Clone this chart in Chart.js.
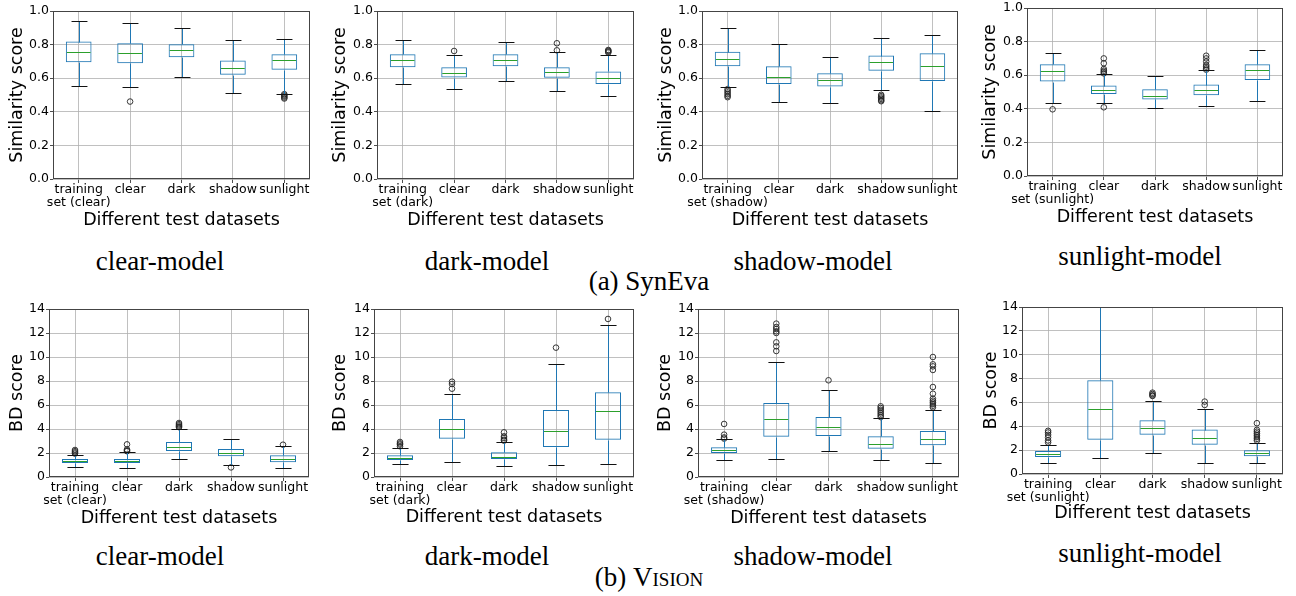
<!DOCTYPE html>
<html lang="en">
<head>
<meta charset="UTF-8">
<title>SynEva / Vision box plots</title>
<script src="https://cdn.jsdelivr.net/npm/chart.js@4"></script>
<style>
  body { margin: 0; background: #fff; }
  #page { position: relative; width: 1296px; height: 596px; overflow: hidden; background: #fff; }
  #page canvas { position: absolute; }
  .cap { position: absolute; font-family: 'Liberation Serif', 'Times New Roman', serif; font-size: 27px;
         line-height: 1; white-space: nowrap; transform: translateX(-50%); color: #000; }
  .sc { font-variant: small-caps; }
</style>
</head>
<body>
<div id="page"></div>
<script>
// test datasets on the x axis (first one is the model's own training set)
const testSets = ['clear', 'dark', 'shadow', 'sunlight'];
const models = ['clear', 'dark', 'shadow', 'sunlight'];

// each row: [lower whisker, q1, median, q3, upper whisker]
// (a) SynEva - similarity score
const synevaClear = [
  [0.552, 0.695, 0.754, 0.818, 0.941],
  [0.547, 0.689, 0.749, 0.808, 0.929],
  [0.606, 0.725, 0.766, 0.802, 0.901],
  [0.511, 0.620, 0.661, 0.705, 0.830],
  [0.507, 0.650, 0.707, 0.743, 0.836]
];
const synevaClearOut = [[], [0.461], [], [], [0.505, 0.498, 0.492, 0.485, 0.479]];

const synevaDark = [
  [0.566, 0.665, 0.707, 0.743, 0.826],
  [0.537, 0.604, 0.632, 0.665, 0.737],
  [0.584, 0.671, 0.707, 0.743, 0.818],
  [0.523, 0.602, 0.638, 0.665, 0.754],
  [0.493, 0.566, 0.602, 0.640, 0.737]
];
const synevaDarkOut = [[], [0.762], [], [0.766, 0.808], [0.753, 0.758, 0.763, 0.768]];

const synevaShadow = [
  [0.549, 0.671, 0.713, 0.758, 0.897],
  [0.457, 0.566, 0.610, 0.671, 0.802],
  [0.450, 0.550, 0.590, 0.630, 0.725],
  [0.529, 0.644, 0.695, 0.735, 0.838],
  [0.404, 0.584, 0.671, 0.749, 0.855]
];
const synevaShadowOut = [[0.535, 0.525, 0.515, 0.505, 0.495, 0.487], [], [],
  [0.501, 0.493, 0.485, 0.477, 0.469, 0.463], []];

const synevaSunlight = [
  [0.437, 0.562, 0.625, 0.665, 0.730],
  [0.433, 0.488, 0.512, 0.538, 0.607],
  [0.407, 0.456, 0.478, 0.516, 0.593],
  [0.415, 0.480, 0.510, 0.544, 0.631],
  [0.446, 0.571, 0.631, 0.665, 0.748]
];
const synevaSunlightOut = [[0.397], [0.409, 0.611, 0.619, 0.627, 0.637, 0.671, 0.700], [],
  [0.633, 0.641, 0.651, 0.661, 0.681, 0.700, 0.716], []];

// (b) Vision - BD score
const visionClear = [
  [0.83, 1.17, 1.33, 1.50, 1.81],
  [0.75, 1.17, 1.36, 1.50, 2.06],
  [1.53, 2.17, 2.47, 2.92, 4.00],
  [1.03, 1.72, 2.00, 2.33, 3.19],
  [0.78, 1.22, 1.50, 1.81, 2.56]
];
const visionClearOut = [[1.95, 2.05, 2.15, 2.25], [2.15, 2.2, 2.3, 2.72], [4.15, 4.2, 4.3, 4.4, 4.5], [0.8], [2.69]];

const visionDark = [
  [1.06, 1.42, 1.58, 1.81, 2.42],
  [1.22, 3.19, 4.00, 4.83, 6.92],
  [0.89, 1.50, 1.67, 2.06, 2.92],
  [1.00, 2.50, 3.86, 5.58, 9.42],
  [1.08, 3.11, 5.50, 7.06, 12.69]
];
const visionDarkOut = [[2.56, 2.7, 2.8, 2.92], [7.36, 7.75, 7.94], [3.03, 3.1, 3.25, 3.39, 3.72], [10.78], [13.17]];

const visionShadow = [
  [1.42, 2.00, 2.28, 2.47, 3.17],
  [1.50, 3.36, 4.83, 6.17, 9.61],
  [2.19, 3.42, 4.17, 5.00, 7.22],
  [1.44, 2.36, 2.75, 3.39, 4.92],
  [1.14, 2.64, 3.17, 3.83, 5.58]
];
const visionShadowOut = [[3.2, 3.3, 3.53, 4.42], [10.5, 10.89, 11.22, 12.0, 12.14, 12.33, 12.5, 12.78], [8.06],
  [5.0, 5.15, 5.3, 5.45, 5.6, 5.75, 5.89],
  [5.8, 5.94, 6.08, 6.22, 6.36, 6.53, 6.94, 7.5, 8.92, 9.22, 9.39, 10.0]];

const visionSunlight = [
  [0.89, 1.42, 1.67, 1.92, 2.45],
  [1.34, 2.87, 5.43, 7.85, 14.0],
  [1.73, 3.28, 3.84, 4.51, 6.15],
  [0.92, 2.45, 3.03, 3.73, 5.48],
  [0.89, 1.48, 1.75, 2.00, 2.64]
];
const visionSunlightOut = [[2.64, 2.81, 3.06, 3.28, 3.48, 3.62], [], [6.54, 6.6, 6.71, 6.82], [5.79, 6.07],
  [2.8, 2.95, 3.1, 3.25, 3.4, 3.55, 3.7, 4.26]];

const simTicks = { min: 0, max: 1, step: 0.2, digits: 1, title: 'Similarity score' };
const bdTicks = { min: 0, max: 14, step: 2, digits: 0, title: 'BD score' };

const modelCaptions = ['clear-model', 'dark-model', 'shadow-model', 'sunlight-model'];

// layout of each panel (plot area edges, centre of the axis titles)
const panels = [
  { stats: synevaClear, out: synevaClearOut, model: 0, axis: simTicks, l: 53, r: 310, t: 11, b: 179, yt: 17, xt: 220 },
  { stats: synevaDark, out: synevaDarkOut, model: 1, axis: simTicks, l: 377, r: 634, t: 11, b: 179, yt: 340, xt: 220 },
  { stats: synevaShadow, out: synevaShadowOut, model: 2, axis: simTicks, l: 702, r: 958, t: 11, b: 179, yt: 666, xt: 220 },
  { stats: synevaSunlight, out: synevaSunlightOut, model: 3, axis: simTicks, l: 1027, r: 1283, t: 8, b: 176, yt: 990, xt: 217 },
  { stats: visionClear, out: visionClearOut, model: 0, axis: bdTicks, l: 49, r: 309, t: 309, b: 477, yt: 17, xt: 518 },
  { stats: visionDark, out: visionDarkOut, model: 1, axis: bdTicks, l: 374, r: 634, t: 309, b: 477, yt: 340, xt: 517 },
  { stats: visionShadow, out: visionShadowOut, model: 2, axis: bdTicks, l: 698, r: 959, t: 309, b: 477, yt: 665, xt: 518 },
  { stats: visionSunlight, out: visionSunlightOut, model: 3, axis: bdTicks, l: 1022, r: 1283, t: 307, b: 474, yt: 991, xt: 513 }
];

const FONT = 'DejaVu Sans';
const tickFont = { family: FONT, size: 12.5, lineHeight: 1.04 };
const titleFont = { family: FONT, size: 17.5, lineHeight: 1.2 };

// whiskers, caps and medians on top of the floating-bar boxes, plus the frame
const boxPlugin = {
  id: 'boxWhisker',
  afterDatasetDraw(chart, args) {
    if (args.index !== 0) return;
    const ctx = chart.ctx;
    const y = chart.scales.y;
    const stats = chart.data.datasets[0].stats;
    const py = v => Math.round(y.getPixelForValue(v)) + 0.5;
    ctx.save();
    ctx.lineWidth = 1;
    args.meta.data.forEach((bar, i) => {
      const { x, width } = bar.getProps(['x', 'width'], true);
      const [lo, q1, med, q3, hi] = stats[i];
      const cx = Math.round(x) + 0.5;
      const cw = width * 0.31;
      ctx.strokeStyle = '#1f77b4';
      ctx.beginPath();
      ctx.moveTo(cx, py(q3)); ctx.lineTo(cx, py(hi));
      ctx.moveTo(cx, py(q1)); ctx.lineTo(cx, py(lo));
      ctx.stroke();
      ctx.strokeStyle = '#111';
      ctx.beginPath();
      ctx.moveTo(cx - cw, py(hi)); ctx.lineTo(cx + cw, py(hi));
      ctx.moveTo(cx - cw, py(lo)); ctx.lineTo(cx + cw, py(lo));
      ctx.stroke();
      ctx.strokeStyle = '#2ca02c';
      ctx.beginPath();
      ctx.moveTo(x - width / 2 + 1, py(med)); ctx.lineTo(x + width / 2 - 1, py(med));
      ctx.stroke();
    });
    ctx.restore();
  },
  afterDatasetsDraw(chart) {
    const { left, top, right, bottom } = chart.chartArea;
    const ctx = chart.ctx;
    ctx.save();
    ctx.strokeStyle = '#444';
    ctx.lineWidth = 1;
    ctx.strokeRect(Math.round(left) + 0.5, Math.round(top) + 0.5,
      Math.round(right - left) - 1, Math.round(bottom - top) - 1);
    ctx.restore();
  }
};

const page = document.getElementById('page');

function makePanel(p) {
  const cl = p.yt - 12, ct = p.t - 10, cr = p.r + 10, cb = p.xt + 12;
  const canvas = document.createElement('canvas');
  canvas.width = cr - cl;
  canvas.height = cb - ct;
  canvas.style.left = cl + 'px';
  canvas.style.top = ct + 'px';
  page.appendChild(canvas);

  const labels = ['training set (' + models[p.model] + ')'].concat(testSets);
  const outliers = [];
  p.out.forEach((list, i) => list.forEach(v => outliers.push({ x: labels[i], y: v })));

  new Chart(canvas, {
    type: 'bar',
    data: {
      labels: labels,
      datasets: [
        {
          type: 'bar',
          data: p.stats.map(s => [s[1], s[3]]),
          stats: p.stats,
          backgroundColor: 'rgba(0,0,0,0)',
          borderColor: '#1f77b4',
          borderWidth: 1,
          borderSkipped: false,
          barPercentage: 0.5,
          categoryPercentage: 1
        },
        {
          type: 'scatter',
          data: outliers,
          pointStyle: 'circle',
          pointRadius: 2.8,
          pointBorderWidth: 0.9,
          pointBorderColor: '#222',
          pointBackgroundColor: 'rgba(0,0,0,0)'
        }
      ]
    },
    options: {
      responsive: false,
      animation: false,
      devicePixelRatio: 1,
      layout: { padding: { top: 10, right: 10, left: 0, bottom: 0 } },
      plugins: { legend: { display: false }, tooltip: { enabled: false } },
      scales: {
        x: {
          offset: true,
          border: { display: false },
          grid: { offset: false, color: '#b0b0b0', lineWidth: 0.8, tickColor: '#222', tickLength: 4 },
          ticks: {
            font: tickFont, color: '#000', padding: 0.5, maxRotation: 0, autoSkip: false,
            callback: function (v) {
              const l = this.getLabelForValue(v);
              return l.indexOf('training') === 0 ? ['training', l.slice(9)] : l;
            }
          },
          title: { display: true, text: 'Different test datasets', font: titleFont, color: '#000',
                   padding: { top: 1.5, bottom: 1.5 } },
          afterFit: s => { s.height = cb - p.b; }
        },
        y: {
          min: p.axis.min,
          max: p.axis.max,
          border: { display: false },
          grid: { color: '#b0b0b0', lineWidth: 0.8, tickColor: '#222', tickLength: 3 },
          ticks: { stepSize: p.axis.step, font: tickFont, color: '#000', padding: 1,
                   callback: v => v.toFixed(p.axis.digits) },
          title: { display: true, text: p.axis.title, font: titleFont, color: '#000',
                   padding: { top: 1.5, bottom: 1.5 } },
          afterFit: s => { s.width = p.l - cl; }
        }
      }
    },
    plugins: [boxPlugin]
  });
}

panels.forEach(makePanel);

// captions
function caption(html, cx, cy) {
  const d = document.createElement('div');
  d.className = 'cap';
  d.innerHTML = html;
  d.style.left = cx + 'px';
  d.style.top = (cy - 14) + 'px';
  page.appendChild(d);
}
const capX = [160, 487, 813, 1140];
const capY = [[262, 262, 262, 257], [557, 557, 557, 554]];
capY.forEach((row, r) => row.forEach((cy, i) => caption(modelCaptions[i], capX[i], cy)));
caption('(a) SynEva', 649, 282);
caption('(b) <span class="sc">Vision</span>', 649, 578);
</script>
</body>
</html>
